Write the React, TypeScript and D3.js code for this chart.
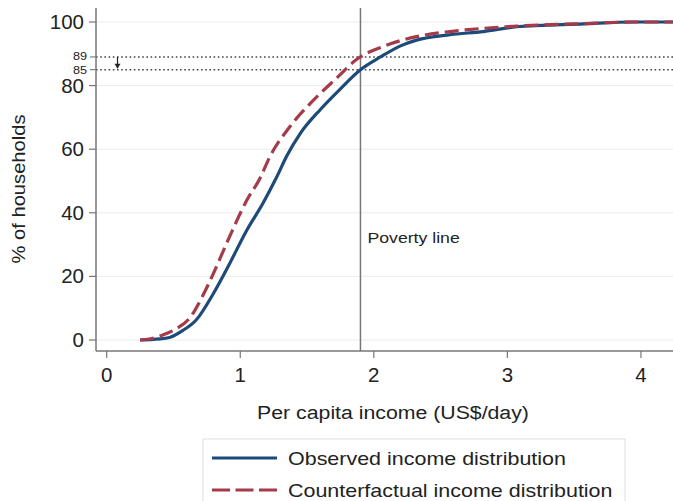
import React from "react";
import * as d3 from "d3";

const obsX = [0.25, 0.35, 0.47, 0.57, 0.67, 0.8, 0.92, 1.05, 1.17, 1.27, 1.35, 1.45, 1.6, 1.75, 1.9, 2.05, 2.2, 2.32, 2.57, 2.82, 3.07, 3.57, 3.94, 4.24];
const obsY = [0, 0.2, 0.8, 3, 6.3, 14.7, 24, 34.6, 43, 51, 58, 65, 72.5, 79, 85, 89, 92.5, 94.3, 96, 97, 98.5, 99.4, 100, 100];
const cfX = [0.25, 0.32, 0.42, 0.52, 0.62, 0.72, 0.8, 0.92, 1.05, 1.15, 1.22, 1.37, 1.55, 1.72, 1.88, 2.07, 2.32, 2.57, 2.82, 3.07, 3.57, 3.94, 4.24];
const cfY = [0, 0.3, 1.6, 3.5, 6.8, 14, 21, 32.5, 44, 51, 57.5, 67, 75.5, 82.3, 88.5, 92.3, 95.4, 97, 98, 98.7, 99.5, 100, 100];
const yTicks = [0, 20, 40, 60, 80, 100];
const xTicks = [0, 1, 2, 3, 4];
const refLevels = [89, 85];
const povertyLine = 1.9;
const seriesLabels = ["Observed income distribution", "Counterfactual income distribution"];

const BLUE = "#1d4a78";
const RED = "#a53b4a";
const FONT = "'Liberation Sans', Arial, Helvetica, sans-serif";

function SText(props: {
  x: number;
  y: number;
  s: number;
  size: number;
  anchor?: string;
  rotate?: number;
  children: React.ReactNode;
}) {
  const { x, y, s, size, anchor = "start", rotate = 0, children } = props;
  return (
    <text
      transform={`translate(${x},${y}) rotate(${rotate}) scale(${s},1)`}
      dy="0.36em"
      fontSize={size}
      textAnchor={anchor}
      fill="#222"
    >
      {children}
    </text>
  );
}

export default function App() {
  const left = 96, right = 673, axisY = 351;
  const x = d3.scaleLinear().domain([-0.08, 4.24]).range([left, right]);
  const y = d3.scaleLinear().domain([0, 100]).range([340, 22]);
  const line = d3
    .line<[number, number]>()
    .x((d) => x(d[0]))
    .y((d) => y(d[1]))
    .curve(d3.curveMonotoneX);
  const obs = obsX.map((v, i) => [v, obsY[i]] as [number, number]);
  const cf = cfX.map((v, i) => [v, cfY[i]] as [number, number]);

  return (
    <svg
      width={673}
      height={501}
      style={{ position: "fixed", left: 0, top: 0, background: "#fff" }}
      fontFamily={FONT}
    >
      <rect x={0} y={0} width={673} height={501} fill="#fff" />
      {yTicks.map((t) => (
        <line key={"g" + t} x1={left} x2={right} y1={y(t)} y2={y(t)} stroke="#ececec" strokeWidth={1} />
      ))}
      {refLevels.map((t) => (
        <line
          key={"r" + t}
          x1={left}
          x2={right}
          y1={y(t)}
          y2={y(t)}
          stroke="#444"
          strokeWidth={1.6}
          strokeDasharray="1.6,2.6"
        />
      ))}
      {refLevels.map((t) => (
        <g key={"rt" + t}>
          <line x1={left - 6} x2={left} y1={y(t)} y2={y(t)} stroke="#666" strokeWidth={1} />
          <SText x={left - 9} y={y(t) + (t === 89 ? -0.5 : 0.8)} s={1.15} size={11} anchor="end">
            {t}
          </SText>
        </g>
      ))}
      <line x1={117.5} x2={117.5} y1={y(89)} y2={y(85) - 2} stroke="#222" strokeWidth={1.2} />
      <path
        d={`M${117.5 - 3},${y(85) - 6} L${117.5 + 3},${y(85) - 6} L117.5,${y(85) - 1} Z`}
        fill="#222"
      />
      <line x1={x(povertyLine)} x2={x(povertyLine)} y1={8} y2={axisY} stroke="#777" strokeWidth={1.5} />
      <SText x={x(povertyLine) + 7} y={237} s={1.14} size={15.5}>
        Poverty line
      </SText>
      <path d={line(obs) || ""} fill="none" stroke={BLUE} strokeWidth={3.2} strokeLinejoin="round" />
      <path d={line(cf) || ""} fill="none" stroke={RED} strokeWidth={3.2} strokeDasharray="14,6" />
      <line x1={left} x2={left} y1={8} y2={axisY} stroke="#777" strokeWidth={1.5} />
      <line x1={left} x2={right} y1={axisY} y2={axisY} stroke="#777" strokeWidth={1.5} />
      {yTicks.map((t) => (
        <g key={"yt" + t}>
          <line x1={left - 7} x2={left} y1={y(t)} y2={y(t)} stroke="#777" strokeWidth={1.2} />
          <SText x={left - 12} y={y(t)} s={1.05} size={19.5} anchor="end">
            {t}
          </SText>
        </g>
      ))}
      {xTicks.map((t) => (
        <g key={"xt" + t}>
          <line x1={x(t)} x2={x(t)} y1={axisY} y2={axisY + 7} stroke="#777" strokeWidth={1.2} />
          <SText x={x(t)} y={375} s={1.05} size={19.5} anchor="middle">
            {t}
          </SText>
        </g>
      ))}
      <SText x={393} y={412} s={1.12} size={19} anchor="middle">
        Per capita income (US$/day)
      </SText>
      <SText x={19} y={189} s={1.12} size={18} anchor="middle" rotate={-90}>
        % of households
      </SText>
      <rect x={203} y={439} width={422} height={80} fill="#fff" stroke="#ddd" strokeWidth={1} />
      <line x1={212} x2={277} y1={458} y2={458} stroke={BLUE} strokeWidth={3.2} />
      <line x1={212} x2={277} y1={490} y2={490} stroke={RED} strokeWidth={3.2} strokeDasharray="18,5.5" />
      <SText x={288} y={458} s={1.13} size={19}>
        {seriesLabels[0]}
      </SText>
      <SText x={288} y={490} s={1.13} size={19}>
        {seriesLabels[1]}
      </SText>
    </svg>
  );
}
